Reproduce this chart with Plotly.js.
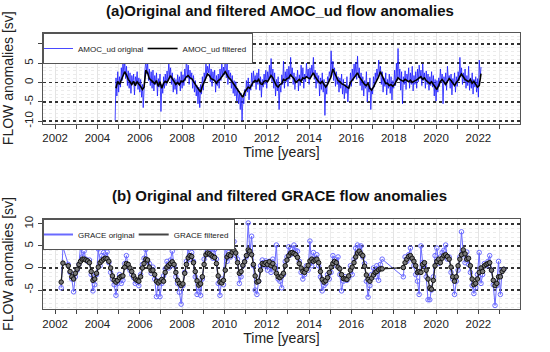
<!DOCTYPE html>
<html>
<head>
<meta charset="utf-8">
<script src="https://cdn.plot.ly/plotly-3.0.1.min.js"></script>
<style>html,body{margin:0;padding:0;background:#fff;} #chart{width:550px;height:352px;}</style>
</head>
<body>
<div id="chart"></div>
<script>
// ---------- DATA ----------
// AMOC_ud original: semi-monthly values (1st and 16th of each month) starting Nov 2004
const amocOrigStart = [2004, 11];
const amocOrig = [
 -9.8, 1.2, -3.5, 2.8,
 -2.5, 1.5, -1.2, 3.8, 0.5, 5.5, 2.2, 6.0, 1.0, 4.2, -0.8, 3.0, -1.5, 2.5, -2.8, 1.8, -0.5, 2.2, -3.2, 1.5, 0.2, 2.8, -1.8, 1.2,
 -2.5, 0.8, -3.8, -0.5, -6.5, 1.5, 3.5, 5.8, 2.2, 5.2, 0.5, 3.5, -0.8, 2.8, -1.5, 3.2, -2.2, 1.8, -0.5, 2.5, -3.5, 1.0, -1.2, 2.2,
 -7.5, -0.5, -2.8, 1.5, -1.5, 2.2, -0.8, 3.0, 0.5, 5.5, 1.5, 3.8, -0.5, 2.5, -2.5, 1.2, -1.8, 0.8, -3.0, 2.0, -0.5, 1.5, -2.2, 2.8,
 -1.5, 2.0, -0.8, 3.5, 0.5, 7.0, 1.2, 4.5, -0.5, 3.2, 0.8, 2.5, -1.5, 1.8, -2.5, 0.5, -3.5, -0.8, -5.5, -1.2, -6.5, -0.5, -3.0, 1.5,
 -2.0, 2.5, 0.5, 5.8, 1.5, 4.2, 2.5, 4.8, 0.2, 3.5, -1.0, 2.8, 0.5, 3.2, -2.5, 1.8, -0.8, 2.2, -1.5, 3.5, 0.5, 5.2, 1.5, 4.0,
 2.0, 7.5, 1.2, 4.8, -0.5, 3.2, 0.8, 2.5, -1.5, 1.8, -2.8, 0.5, -3.5, 0.2, -4.8, -1.5, -5.5, -2.2, -7.0, -2.8, -9.8, -4.0, -5.5, -1.8,
 -3.5, 0.5, -2.5, 1.2, -4.5, -0.5, -2.0, 2.5, -1.0, 3.0, 0.2, 1.8, -1.8, 2.5, -0.5, 3.5, -2.0, 1.5, -3.8, 0.8, -1.2, 2.2, -0.5, 3.2,
 -1.5, 2.8, 0.5, 4.5, 1.2, 6.2, 0.2, 3.5, -1.5, 2.5, -3.5, 0.8, -2.2, 1.5, -7.0, -0.8, -2.5, 2.0, -0.5, 5.5, -1.5, 2.8, 0.2, 3.5,
 -1.0, 4.2, 0.8, 6.5, 1.5, 3.8, -0.5, 2.5, -1.8, 1.5, 0.5, 3.2, -2.2, 2.0, -0.8, 4.5, 0.5, 3.8, -1.5, 2.2, 0.2, 5.0, 1.2, 3.5,
 -0.5, 3.8, 1.5, 4.5, 2.0, 6.5, 0.8, 3.2, -1.5, 2.5, -0.2, 1.8, -3.5, 1.2, -1.8, 2.5, -2.5, 0.8, -8.5, -0.5, -3.0, 1.5, 0.5, 2.8,
 1.5, 8.2, 2.5, 5.5, 0.5, 3.8, -1.0, 2.8, -0.5, 1.5, -2.5, 1.2, -1.5, 2.2, -3.0, 0.8, -4.2, -0.5, -2.8, 1.5, -5.0, -0.8, -1.5, 2.5,
 -1.0, 3.5, 0.5, 4.8, 1.5, 5.2, 0.8, 6.8, 1.2, 3.8, -0.8, 2.5, -2.0, 1.5, -3.5, 0.5, -1.5, 2.8, -5.0, -0.8, -2.5, 1.2, -7.0, -1.5,
 -3.0, 1.5, -1.2, 2.5, 0.5, 3.5, 1.5, 5.8, 2.0, 4.2, -0.5, 2.8, -2.5, 1.2, -1.0, 2.5, -3.2, 0.8, -1.5, 2.2, -2.8, 1.5, -4.5, 0.5,
 -1.5, 3.2, -0.8, 5.0, 0.5, 8.8, 1.2, 3.5, -2.0, 2.8, -5.5, 1.5, -0.5, 3.0, -1.8, 2.2, 0.5, 3.8, -1.5, 2.5, -0.5, 4.2, -2.2, 1.8,
 -0.5, 2.8, -1.5, 3.5, 0.2, 4.5, 1.0, 3.2, -0.8, 4.8, 0.5, 2.5, -1.5, 3.0, -0.5, 2.2, -2.0, 1.5, -0.8, 2.8, -1.2, 1.8, -3.5, 0.8,
 -4.8, 0.5, -2.5, 1.2, -1.0, 3.5, 0.2, 2.2, -5.5, 1.5, -0.5, 2.5, -2.0, 4.2, 0.5, 1.8, -1.5, 2.2, -3.2, 1.0, -0.5, 2.5, -2.5, 1.5,
 -1.0, 2.8, 0.5, 6.5, 1.5, 3.8, -0.5, 2.5, 0.2, 3.5, -1.5, 1.8, -0.8, 4.2, -2.0, 1.2, -1.5, 2.5, -3.0, 0.8, -1.2, 1.5, -2.5, 1.0,
 -3.8, 5.8, 1.5, 4.0
];
// AMOC_ud filtered: monthly values starting Nov 2004
const amocFiltStart = [2004, 11];
const amocFilt = [
 -1.5, 0.3,
 -0.5, 0.8, 1.8, 2.8, 2.0, 0.8, 0.2, -0.5, 0.3, -0.8, 0.2, -0.3,
 -1.0, -1.8, -1.2, 3.2, 2.5, 1.0, 0.5, 0.2, -0.3, 0.5, -1.0, 0.2,
 -1.5, -0.2, 0.3, 0.0, 0.8, 1.8, 1.0, 0.3, -0.5, 0.0, -0.6, 0.4,
 0.2, 0.8, 1.5, 1.8, 1.2, 1.0, 0.2, -0.3, -1.2, -1.8, -2.5, -1.0,
 0.2, 1.5, 2.2, 1.8, 1.0, 0.8, 0.5, -0.2, 0.5, 0.8, 1.5, 2.0,
 2.8, 2.0, 1.2, 0.8, 0.2, -0.5, -1.2, -1.8, -2.5, -3.2, -3.8, -2.5,
 -1.8, -1.2, -1.5, -0.5, 0.2, 0.5, 0.2, 0.8, -0.3, -0.5, 0.3, 0.5,
 0.2, 1.0, 1.8, 1.2, 0.3, -0.8, -1.2, -0.5, -0.3, 0.8, 0.5, 1.0,
 1.2, 2.0, 1.5, 1.0, 0.0, 0.5, 0.8, 0.3, 1.2, 1.0, 1.5, 1.2,
 1.0, 1.8, 2.5, 1.5, 0.8, 0.2, -0.2, 0.3, -0.5, -1.2, -0.5, 0.5,
 1.5, 3.5, 2.5, 1.2, 0.5, 0.2, -0.3, -0.5, -0.8, -1.0, -1.5, 0.0,
 0.5, 1.2, 1.8, 2.5, 1.5, 0.8, 0.2, -0.5, -0.8, -0.2, -1.5, -2.0,
 -1.2, -0.3, 0.8, 1.5, 2.8, 1.8, 0.5, -0.3, -0.2, -0.8, -0.5, -1.0,
 -0.5, 0.3, 1.2, 0.8, 0.5, 0.3, 0.8, 0.5, 0.2, 0.6, 0.0, 0.3,
 0.5, 0.8, 1.2, 1.5, 0.8, 1.2, 0.5, 0.2, -0.3, 0.2, -0.5, -1.2,
 -1.8, -0.8, 0.3, 0.8, 0.2, -0.5, 0.3, 1.0, 0.5, -0.2, -0.8, 0.0,
 0.5, 1.5, 2.2, 1.5, 0.8, 0.5, 0.2, 0.8, -0.2, 0.3, -0.5, -1.2,
 -0.8, 2.3
];
// GRACE: monthly values from Jan 2002 (null = no data)
const graceStartYear = 2002;
const graceOrig = [
 null, null, null, -4.5, 4.8, null, null, 0.8, -1.0, -2.5, -5.4, -2.0,
 -0.5, 0.8, 5.0, 2.5, 3.8, 2.0, 1.5, 1.8, -1.5, -5.2, -3.8, -1.5,
 4.3, 0.5, 2.8, 3.5, 2.2, 3.6, 1.2, -1.0, -2.5, -3.8, -6.2, -3.5,
 -1.5, -3.5, -2.8, 1.0, 2.8, 0.2, -0.5, -1.5, -2.2, -3.5, -3.2, -4.0,
 -1.5, 0.8, 2.2, 4.2, 1.5, 1.0, -1.2, 0.2, -2.5, -6.5, -3.0, -6.5,
 -3.5, -1.8, -0.2, 1.5, 0.0, 1.8, 3.8, 0.5, -2.0, -3.5, -5.5, -8.2,
 -4.0, -1.0, 1.5, 4.5, 2.0, 3.5, 1.5, -2.0, -6.0, -4.5, -6.2, -2.5,
 2.0, 5.2, 4.0, 3.0, 4.2, 2.2, 4.2, 2.0, -3.5, -6.2, -2.5, -3.8,
 5.5, 1.5, 3.5, 2.5, 6.3, 6.0, 2.8, 2.0, -3.5, -2.0, 0.5, 1.5,
 2.5, 10.2, 3.5, 7.2, 0.5, -5.0, -6.0, -3.0, 0.5, 1.8, 0.5, 1.6,
 -0.5, 1.5, -1.0, 2.0, 0.5, 5.2, -2.5, -3.0, -4.5, -1.5, 1.5, 2.5,
 4.8, 3.0, 4.2, 5.2, 4.0, 3.8, 1.5, -1.0, -2.5, -1.5, 0.5, -0.5,
 6.1, 0.5, 3.5, 2.0, 3.0, 0.5, -2.0, -5.2, -4.0, -3.5, -1.5, -2.5,
 -1.0, 2.8, 2.0, 0.5, 2.5, -1.5, -5.2, -3.0, -2.0, -2.8, -2.2, 0.5,
 -1.5, 2.0, 4.5, 5.2, 4.8, 5.0, 2.5, 1.0, -3.0, -6.6, -4.0, -1.5,
 0.0, -2.0, 0.5, -2.8, 0.8, 2.0, null, null, null, null, null, null,
 null, null, null, null, null, -2.0, 2.5, 1.5, 3.0, 4.5, 2.0, 0.5,
 -1.5, -3.0, -6.0, 5.0, 1.2, 0.5, -2.0, -7.2, -7.2, -5.0, -2.0, 2.8,
 4.5, 1.0, 2.5, 3.5, 4.0, 5.2, 2.0, 2.5, -1.0, -2.5, -6.0, -3.0,
 -0.5, 2.5, 8.2, 3.5, 1.2, 3.6, 0.8, -1.0, -4.0, -5.8, -4.5, -1.5,
 3.5, -3.5, -1.5, 1.0, 0.5, 1.5, 2.8, -0.5, -3.8, -8.5, -4.0, 1.5,
 -6.0, -0.5, -0.3
];
const graceFilt = [
 null, null, null, -3.2, 1.1, null, null, 0.5, -0.8, -2.0, -2.5, -1.2,
 -0.3, 0.8, 1.5, 2.0, 2.0, 1.8, 1.6, 1.2, -0.8, -2.8, -2.5, -1.2,
 0.2, 1.2, 1.6, 2.0, 2.2, 2.1, 1.5, 0.0, -1.8, -2.8, -3.2, -2.8,
 -2.2, -1.9, -1.8, 0.2, 1.0, 0.8, 0.0, -0.8, -1.8, -2.5, -2.8, -3.0,
 -2.0, 0.0, 1.0, 2.0, 1.8, 0.2, -0.6, -0.5, -1.5, -3.0, -3.4, -3.0,
 -2.6, -3.0, -1.0, 0.2, 0.6, 1.0, 1.4, 0.8, -1.0, -2.8, -3.5, -4.0,
 -3.6, -1.2, 0.8, 2.3, 2.8, 2.6, 1.2, -0.8, -2.9, -3.9, -3.6, -2.0,
 0.8, 3.0, 3.4, 3.2, 2.9, 2.6, 2.4, 1.0, -1.8, -3.2, -3.4, -2.8,
 -0.5, 2.5, 3.0, 2.8, 3.6, 4.0, 3.4, 1.2, -1.2, -0.8, 0.6, 1.4,
 2.8, 4.1, 3.8, 3.0, 0.8, -1.8, -3.2, -3.0, -0.5, 1.0, 0.8, 1.2,
 0.8, 1.4, 0.5, 1.0, 0.0, -1.2, -2.0, -2.2, -1.8, -1.2, 0.5, 1.8,
 2.8, 3.4, 3.5, 3.3, 3.0, 2.4, 1.0, 0.0, -0.8, -1.0, -0.3, 0.6,
 1.6, 2.0, 1.5, 1.8, 2.0, 1.2, -0.8, -2.6, -3.2, -2.9, -2.2, -1.0,
 0.2, 1.0, 1.5, 1.2, 0.2, -0.2, -1.5, -2.4, -2.5, -2.6, -1.8, -0.5,
 0.2, 1.2, 2.5, 3.4, 3.8, 3.2, 2.8, 0.4, -1.6, -2.6, -3.0, -2.3,
 -1.6, -1.0, -0.8, -0.4, -0.2, -0.2, null, null, null, null, null, null,
 null, null, null, null, null, 0.1, 1.2, 2.0, 2.6, 2.8, 2.2, 1.5,
 0.5, -1.0, -0.8, -1.0, 0.8, 1.2, -0.5, -2.5, -4.5, -4.8, -2.8, 0.5,
 1.5, 2.0, 1.2, 2.2, 2.8, 3.0, 2.6, 2.0, 0.2, -2.0, -3.0, -2.0,
 0.5, 2.0, 3.0, 4.1, 3.2, 2.0, 2.2, 0.5, -2.5, -3.8, -3.5, -2.5,
 -1.0, 0.0, -0.8, 0.5, 0.8, 1.0, 1.2, -0.5, -2.8, -4.0, -3.5, -2.0,
 -2.0, -0.8, -0.3
];
const seriesNames = ['AMOC_ud original', 'AMOC_ud filtered', 'GRACE original', 'GRACE filtered'];
const titleA = '(a)Original and filtered AMOC_ud flow anomalies';
const titleB = '(b) Original and filtered GRACE flow anomalies';
const yTitle = 'FLOW anomalies [sv]';
const xTitle = 'Time [years]';

// ---------- date helpers ----------
function pad(n){ return (n < 10 ? '0' : '') + n; }
function monthDate(y, m, d){ // m 1-based, may overflow
  const yy = y + Math.floor((m - 1) / 12);
  const mm = ((m - 1) % 12) + 1;
  return yy + '-' + pad(mm) + '-' + pad(d);
}
const amocOrigX = amocOrig.map((_, i) => monthDate(amocOrigStart[0], amocOrigStart[1] + Math.floor(i / 2), i % 2 ? 16 : 1));
const amocFiltX = amocFilt.map((_, i) => monthDate(amocFiltStart[0], amocFiltStart[1] + i, 15));
const graceX = graceOrig.map((_, i) => monthDate(graceStartYear, 1 + i, 15));

// ---------- traces ----------
const blueA = '#1a1aff';
const blueB = '#6a6aff';
const traces = [
  {x: amocOrigX, y: amocOrig, type: 'scatter', mode: 'lines', name: seriesNames[0],
   line: {color: blueA, width: 0.8}, xaxis: 'x', yaxis: 'y', legend: 'legend'},
  {x: amocFiltX, y: amocFilt, type: 'scatter', mode: 'lines', name: seriesNames[1],
   line: {color: '#000', width: 1.6}, xaxis: 'x', yaxis: 'y', legend: 'legend'},
  {x: graceX, y: graceOrig, type: 'scatter', mode: 'lines+markers', name: seriesNames[2], connectgaps: true,
   line: {color: blueB, width: 1}, marker: {symbol: 'circle-open', size: 4.5, color: blueB, line: {width: 1}},
   xaxis: 'x2', yaxis: 'y2', legend: 'legend2', showlegend: false},
  {x: graceX, y: graceFilt, type: 'scatter', mode: 'lines+markers', name: seriesNames[3], connectgaps: true,
   line: {color: '#222', width: 1.3}, marker: {symbol: 'circle', size: 4.5, color: '#777', line: {width: 1, color: '#111'}},
   xaxis: 'x2', yaxis: 'y2', legend: 'legend2', showlegend: false},
  // legend entries (lines only)
  {x: [null], y: [null], type: 'scatter', mode: 'lines', name: seriesNames[2],
   line: {color: blueB, width: 2}, xaxis: 'x2', yaxis: 'y2', legend: 'legend2'},
  {x: [null], y: [null], type: 'scatter', mode: 'lines', name: seriesNames[3],
   line: {color: '#444', width: 2}, xaxis: 'x2', yaxis: 'y2', legend: 'legend2'}
];

// ---------- layout ----------
const W = 550, H = 352;
const px = v => v / W, py = v => 1 - v / H;
const font = {family: 'Liberation Sans, Arial, sans-serif', color: '#222'};

function xAxis(anchor){
  return {
    type: 'date', domain: [px(43), px(520)], anchor: anchor,
    range: ['2001-06-05', '2023-12-20'],
    tick0: '2002-01-01', dtick: 'M24', tickformat: '%Y',
    ticks: 'outside', ticklen: 4, tickcolor: '#444', tickwidth: 1,
    tickfont: {size: 11.5, color: '#222'},
    showline: true, linecolor: '#555', linewidth: 1, mirror: true,
    showgrid: true, gridcolor: '#e4e4e4', gridwidth: 1,
    minor: {dtick: 'M12', tick0: '2002-01-01', ticks: 'outside', ticklen: 4, tickcolor: '#444', showgrid: true, gridcolor: '#ececec'},
    zeroline: false,
    title: {text: xTitle, font: {size: 14, color: '#222'}, standoff: 3}
  };
}
function yAxis(dom, anchor, range, tv, tt){
  return {
    domain: dom, anchor: anchor, range: range,
    tickmode: 'array', tickvals: tv, ticktext: tt, tickangle: -90,
    ticks: 'outside', ticklen: 4, tickcolor: '#444',
    tickfont: {size: 11.5, color: '#222'},
    showline: true, linecolor: '#555', linewidth: 1, mirror: true,
    showgrid: true, gridcolor: '#333', griddash: 'dot', gridwidth: 1.4,
    minor: {dtick: 1, showgrid: true, gridcolor: '#ebebeb', gridwidth: 1, ticks: ''},
    zeroline: false,
    title: {text: yTitle, font: {size: 14, color: '#222'}, standoff: 6}
  };
}

const legendStyle = {xanchor: 'left', yanchor: 'top', orientation: 'h',
  bgcolor: '#fff', bordercolor: '#555', borderwidth: 1, font: {size: 8, color: '#222'},
  itemwidth: 30, tracegroupgap: 0, indentation: -6};

const layout = {
  width: W, height: H,
  margin: {l: 0, r: 0, t: 0, b: 0},
  paper_bgcolor: '#fff', plot_bgcolor: '#fff',
  font: font,
  showlegend: true,
  xaxis: xAxis('y'),
  yaxis: yAxis([py(123.5), py(33)], 'x', [-10.6, 12.8], [-10, -5, 0, 5, 10], ['-10', '-5', '0', '5', '']),
  xaxis2: xAxis('y2'),
  yaxis2: yAxis([py(309), py(219)], 'x2', [-9.3, 11.1], [-5, 0, 5, 10], ['-5', '0', '5', '10']),
  legend: Object.assign({x: px(43), y: py(33)}, legendStyle),
  legend2: Object.assign({x: px(43), y: py(219)}, legendStyle),
  annotations: [
    {text: '<b>' + titleA + '</b>', x: px(280), y: py(10), xref: 'paper', yref: 'paper',
     xanchor: 'center', yanchor: 'middle', showarrow: false, font: {size: 15, color: '#111'}},
    {text: '<b>' + titleB + '</b>', x: px(279), y: py(196), xref: 'paper', yref: 'paper',
     xanchor: 'center', yanchor: 'middle', showarrow: false, font: {size: 15, color: '#111'}}
  ]
};

Plotly.newPlot('chart', traces, layout, {displayModeBar: false, staticPlot: true});
</script>
</body>
</html>
